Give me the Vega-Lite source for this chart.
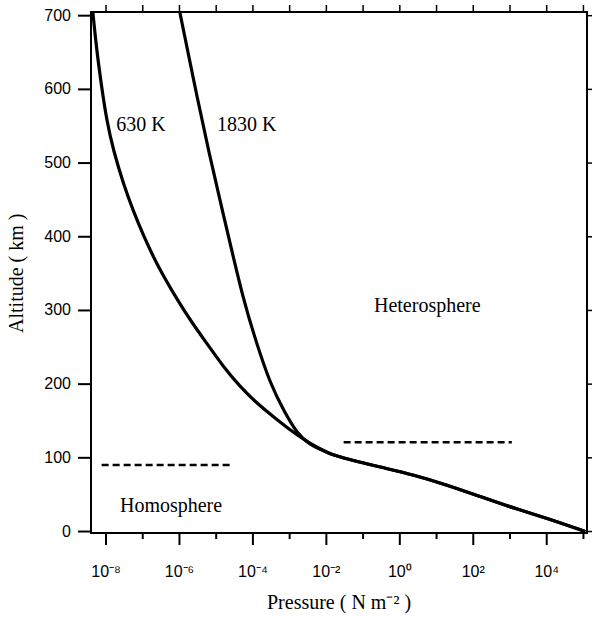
{
  "$schema": "https://vega.github.io/schema/vega-lite/v6.json",
  "width": 496,
  "height": 521,
  "autosize": {"type": "none"},
  "padding": {"left": 91, "top": 12, "right": 5, "bottom": 84},
  "background": "white",
  "config": {
    "view": {"stroke": "black", "strokeWidth": 2}
  },
  "datasets": {
    "curves": [
      {"series": "630 K", "p": 4.37e-9, "alt": 705},
      {"series": "630 K", "p": 5.58e-9, "alt": 652.7},
      {"series": "630 K", "p": 7.63e-9, "alt": 602.6},
      {"series": "630 K", "p": 1.04e-8, "alt": 558.1},
      {"series": "630 K", "p": 1.58e-8, "alt": 517.5},
      {"series": "630 K", "p": 2.96e-8, "alt": 472.1},
      {"series": "630 K", "p": 5.55e-8, "alt": 434.6},
      {"series": "630 K", "p": 1.04e-7, "alt": 402.0},
      {"series": "630 K", "p": 2.4e-7, "alt": 362.7},
      {"series": "630 K", "p": 6.82e-7, "alt": 323.4},
      {"series": "630 K", "p": 1.95e-6, "alt": 286.9},
      {"series": "630 K", "p": 5.55e-6, "alt": 255.3},
      {"series": "630 K", "p": 1.57e-5, "alt": 223.6},
      {"series": "630 K", "p": 4.48e-5, "alt": 196.5},
      {"series": "630 K", "p": 1.28e-4, "alt": 174.0},
      {"series": "630 K", "p": 3.63e-4, "alt": 155.8},
      {"series": "630 K", "p": 1.03e-3, "alt": 137.8},
      {"series": "630 K", "p": 2.94e-3, "alt": 122.0},
      {"series": "630 K", "p": 7.69e-3, "alt": 110.7},
      {"series": "630 K", "p": 0.0127, "alt": 105.1},
      {"series": "630 K", "p": 0.0363, "alt": 98.6},
      {"series": "630 K", "p": 0.295, "alt": 87.4},
      {"series": "630 K", "p": 2.4, "alt": 76.9},
      {"series": "630 K", "p": 19.1, "alt": 63.3},
      {"series": "630 K", "p": 155, "alt": 47.5},
      {"series": "630 K", "p": 1259, "alt": 31.7},
      {"series": "630 K", "p": 10200, "alt": 18.1},
      {"series": "630 K", "p": 112000, "alt": 0},
      {"series": "1830 K", "p": 1.02e-6, "alt": 705},
      {"series": "1830 K", "p": 2.5e-6, "alt": 609.4},
      {"series": "1830 K", "p": 6.12e-6, "alt": 517.2},
      {"series": "1830 K", "p": 1.86e-5, "alt": 414.2},
      {"series": "1830 K", "p": 5.51e-5, "alt": 313.7},
      {"series": "1830 K", "p": 1.28e-4, "alt": 254.3},
      {"series": "1830 K", "p": 2.94e-4, "alt": 201.1},
      {"series": "1830 K", "p": 6.78e-4, "alt": 164.9},
      {"series": "1830 K", "p": 1.57e-3, "alt": 133.3},
      {"series": "1830 K", "p": 3.62e-3, "alt": 117.5},
      {"series": "1830 K", "p": 7.69e-3, "alt": 110.7},
      {"series": "1830 K", "p": 0.0127, "alt": 105.1},
      {"series": "1830 K", "p": 0.0363, "alt": 98.6},
      {"series": "1830 K", "p": 0.295, "alt": 87.4},
      {"series": "1830 K", "p": 2.4, "alt": 76.9},
      {"series": "1830 K", "p": 19.1, "alt": 63.3},
      {"series": "1830 K", "p": 155, "alt": 47.5},
      {"series": "1830 K", "p": 1259, "alt": 31.7},
      {"series": "1830 K", "p": 10200, "alt": 18.1},
      {"series": "1830 K", "p": 112000, "alt": 0}
    ],
    "bounds": [
      {"name": "heterosphere", "p1": 0.0295, "p2": 1122, "alt": 121.1},
      {"name": "homosphere", "p1": 7.6e-9, "p2": 2.7e-5, "alt": 90.4}
    ],
    "labels": [
      {"text": "630 K", "p": 8.9e-8, "alt": 552},
      {"text": "1830 K", "p": 6.8e-5, "alt": 552},
      {"text": "Heterosphere", "p": 5.6, "alt": 306},
      {"text": "Homosphere", "p": 5.9e-7, "alt": 35}
    ],
    "decades": [
      {"p": 1e-8, "kind": "major", "label": "10⁻⁸"},
      {"p": 1e-7, "kind": "minor", "label": ""},
      {"p": 1e-6, "kind": "major", "label": "10⁻⁶"},
      {"p": 1e-5, "kind": "minor", "label": ""},
      {"p": 1e-4, "kind": "major", "label": "10⁻⁴"},
      {"p": 1e-3, "kind": "minor", "label": ""},
      {"p": 1e-2, "kind": "major", "label": "10⁻²"},
      {"p": 1e-1, "kind": "minor", "label": ""},
      {"p": 1, "kind": "major", "label": "10⁰"},
      {"p": 10, "kind": "minor", "label": ""},
      {"p": 100, "kind": "major", "label": "10²"},
      {"p": 1000, "kind": "minor", "label": ""},
      {"p": 10000, "kind": "major", "label": "10⁴"},
      {"p": 100000, "kind": "minor", "label": ""}
    ],
    "altitudes": [
      {"alt": 0}, {"alt": 100}, {"alt": 200}, {"alt": 300},
      {"alt": 400}, {"alt": 500}, {"alt": 600}, {"alt": 700}
    ],
    "titles": [
      {"axis": "x", "title": "Pressure (  N m⁻² )", "p": 0.0221, "alt": -2},
      {"axis": "y", "title": "Altitude ( km )", "p": 3.9e-9, "alt": 350.5}
    ]
  },
  "layer": [
    {
      "data": {"name": "curves"},
      "mark": {"type": "line", "strokeWidth": 3.2, "color": "black", "interpolate": "basis", "clip": true},
      "encoding": {
        "x": {"field": "p", "type": "quantitative", "scale": {"type": "log", "domain": [3.9e-9, 1.25e5], "nice": false}, "axis": null},
        "y": {"field": "alt", "type": "quantitative", "scale": {"domain": [-2, 705], "nice": false, "zero": false}, "axis": null},
        "detail": {"field": "series"},
        "order": {"field": "p", "type": "quantitative"}
      }
    },
    {
      "data": {"name": "bounds"},
      "mark": {"type": "rule", "strokeWidth": 2.5, "color": "black", "strokeDash": [7, 4]},
      "encoding": {
        "x": {"field": "p1", "type": "quantitative", "scale": {"type": "log", "domain": [3.9e-9, 1.25e5], "nice": false}, "axis": null},
        "x2": {"field": "p2"},
        "y": {"field": "alt", "type": "quantitative", "scale": {"domain": [-2, 705], "nice": false, "zero": false}, "axis": null}
      }
    },
    {
      "data": {"name": "labels"},
      "mark": {"type": "text", "font": "Liberation Serif", "fontSize": 20, "color": "black", "align": "center", "baseline": "middle"},
      "encoding": {
        "x": {"field": "p", "type": "quantitative", "scale": {"type": "log", "domain": [3.9e-9, 1.25e5], "nice": false}, "axis": null},
        "y": {"field": "alt", "type": "quantitative", "scale": {"domain": [-2, 705], "nice": false, "zero": false}, "axis": null},
        "text": {"field": "text"}
      }
    },
    {
      "data": {"name": "decades"},
      "transform": [{"filter": "datum.kind == 'major'"}],
      "mark": {"type": "rule", "strokeWidth": 2, "color": "black", "y2Offset": 12},
      "encoding": {
        "x": {"field": "p", "type": "quantitative", "scale": {"type": "log", "domain": [3.9e-9, 1.25e5], "nice": false}, "axis": null},
        "y": {"datum": -2, "scale": {"domain": [-2, 705], "nice": false, "zero": false}, "axis": null},
        "y2": {"datum": -2}
      }
    },
    {
      "data": {"name": "decades"},
      "transform": [{"filter": "datum.kind == 'minor'"}],
      "mark": {"type": "rule", "strokeWidth": 2, "color": "black", "y2Offset": 6},
      "encoding": {
        "x": {"field": "p", "type": "quantitative", "scale": {"type": "log", "domain": [3.9e-9, 1.25e5], "nice": false}, "axis": null},
        "y": {"datum": -2, "scale": {"domain": [-2, 705], "nice": false, "zero": false}, "axis": null},
        "y2": {"datum": -2}
      }
    },
    {
      "data": {"name": "decades"},
      "mark": {"type": "rule", "strokeWidth": 1.5, "color": "black", "y2Offset": -7},
      "encoding": {
        "x": {"field": "p", "type": "quantitative", "scale": {"type": "log", "domain": [3.9e-9, 1.25e5], "nice": false}, "axis": null},
        "y": {"datum": 705, "scale": {"domain": [-2, 705], "nice": false, "zero": false}, "axis": null},
        "y2": {"datum": 705}
      }
    },
    {
      "data": {"name": "altitudes"},
      "mark": {"type": "rule", "strokeWidth": 2, "color": "black", "x2Offset": -13},
      "encoding": {
        "x": {"datum": 3.9e-9, "scale": {"type": "log", "domain": [3.9e-9, 1.25e5], "nice": false}, "axis": null},
        "x2": {"datum": 3.9e-9},
        "y": {"field": "alt", "type": "quantitative", "scale": {"domain": [-2, 705], "nice": false, "zero": false}, "axis": null}
      }
    },
    {
      "data": {"name": "altitudes"},
      "mark": {"type": "rule", "strokeWidth": 1.5, "color": "black", "x2Offset": 5},
      "encoding": {
        "x": {"datum": 1.25e5, "scale": {"type": "log", "domain": [3.9e-9, 1.25e5], "nice": false}, "axis": null},
        "x2": {"datum": 1.25e5},
        "y": {"field": "alt", "type": "quantitative", "scale": {"domain": [-2, 705], "nice": false, "zero": false}, "axis": null}
      }
    },
    {
      "data": {"name": "decades"},
      "transform": [{"filter": "datum.kind == 'major'"}],
      "mark": {"type": "text", "font": "Liberation Sans", "fontSize": 16, "color": "black", "align": "center", "baseline": "alphabetic", "dy": 44},
      "encoding": {
        "x": {"field": "p", "type": "quantitative", "scale": {"type": "log", "domain": [3.9e-9, 1.25e5], "nice": false}, "axis": null},
        "y": {"datum": -2, "scale": {"domain": [-2, 705], "nice": false, "zero": false}, "axis": null},
        "text": {"field": "label"}
      }
    },
    {
      "data": {"name": "altitudes"},
      "mark": {"type": "text", "font": "Liberation Sans", "fontSize": 16, "color": "black", "align": "right", "baseline": "middle", "dx": -20},
      "encoding": {
        "x": {"datum": 3.9e-9, "scale": {"type": "log", "domain": [3.9e-9, 1.25e5], "nice": false}, "axis": null},
        "y": {"field": "alt", "type": "quantitative", "scale": {"domain": [-2, 705], "nice": false, "zero": false}, "axis": null},
        "text": {"field": "alt", "type": "quantitative"}
      }
    },
    {
      "data": {"name": "titles"},
      "transform": [{"filter": "datum.axis == 'x'"}],
      "mark": {"type": "text", "font": "Liberation Serif", "fontSize": 20, "color": "black", "align": "center", "baseline": "middle", "dy": 70},
      "encoding": {
        "x": {"field": "p", "type": "quantitative", "scale": {"type": "log", "domain": [3.9e-9, 1.25e5], "nice": false}, "axis": null},
        "y": {"field": "alt", "type": "quantitative", "scale": {"domain": [-2, 705], "nice": false, "zero": false}, "axis": null},
        "text": {"field": "title"}
      }
    },
    {
      "data": {"name": "titles"},
      "transform": [{"filter": "datum.axis == 'y'"}],
      "mark": {"type": "text", "font": "Liberation Serif", "fontSize": 20, "color": "black", "align": "center", "baseline": "middle", "angle": 270, "dy": -74},
      "encoding": {
        "x": {"field": "p", "type": "quantitative", "scale": {"type": "log", "domain": [3.9e-9, 1.25e5], "nice": false}, "axis": null},
        "y": {"field": "alt", "type": "quantitative", "scale": {"domain": [-2, 705], "nice": false, "zero": false}, "axis": null},
        "text": {"field": "title"}
      }
    }
  ]
}
